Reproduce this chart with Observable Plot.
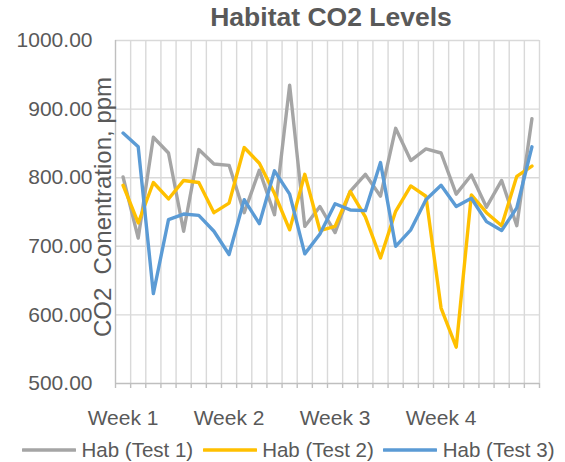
<!DOCTYPE html>
<html>
<head>
<meta charset="utf-8">
<script src="https://cdn.jsdelivr.net/npm/d3@7"></script>
<script src="https://cdn.jsdelivr.net/npm/@observablehq/plot@0.6"></script>
<style>
  html, body { margin: 0; padding: 0; background: #fff; }
  #wrap { position: relative; width: 565px; height: 462px; font-family: "Liberation Sans", Arial, sans-serif; color: #595959; }
  #title { position: absolute; top: 0; left: 119px; width: 424px; height: 34px; line-height: 34px; text-align: center; font-size: 26.5px; font-weight: bold; color: #595959; white-space: nowrap; }
  #legend { position: absolute; top: 439px; left: 22px; height: 22px; line-height: 22px; display: flex; align-items: center; font-size: 20.5px; color: #595959; white-space: nowrap; }
  .item { display: flex; align-items: center; margin-right: 9.5px; line-height: 22px; }
  .item svg { margin-right: 5.5px; }
  #chart { position: absolute; top: 0; left: 0; }
</style>
</head>
<body>
<div id="wrap">
  <div id="chart"></div>
  <div id="title"></div>
  <div id="legend"></div>
</div>
<script>
// ---- data ----
const title = "Habitat CO2 Levels";
const yLabel = "CO2\u00a0 Conentration, ppm";
const weeks = ["Week 1", "Week 2", "Week 3", "Week 4"];
const daysPerWeek = 7;
const seriesNames = ["Hab (Test 1)", "Hab (Test 2)", "Hab (Test 3)"];
const seriesColors = ["#a5a5a5", "#ffc000", "#5b9bd5"];
const test1 = [801, 712, 859, 836, 722, 841, 820, 818, 749, 811, 746, 935, 729, 758, 720, 780, 805, 773, 872, 825, 842, 836, 776, 804, 757, 796, 730, 886];
const test2 = [789, 734, 793, 769, 796, 793, 749, 763, 844, 821, 777, 724, 805, 723, 729, 780, 743, 683, 751, 788, 773, 610, 553, 775, 749, 730, 802, 817];
const test3 = [865, 845, 631, 739, 747, 745, 722, 688, 768, 733, 810, 776, 689, 718, 762, 753, 752, 822, 700, 724, 768, 789, 758, 770, 736, 723, 756, 845];
const yTicks = [500, 600, 700, 800, 900, 1000];

// ---- build ----
const allSeries = [test1, test2, test3];
const n = test1.length;
const rows = [];
allSeries.forEach((arr, k) => arr.forEach((v, i) => rows.push({i, v, s: seriesNames[k]})));
const boundaries = d3.range(n + 1).map(i => i - 0.5);
const weekPos = weeks.map((w, k) => k * daysPerWeek);

const font = "Liberation Sans, Arial, sans-serif";
const chart = Plot.plot({
  width: 565,
  height: 462,
  marginLeft: 115,
  marginRight: 26,
  marginTop: 40,
  marginBottom: 79,
  style: {fontFamily: font, fontSize: "21px", color: "#595959", background: "transparent", overflow: "visible"},
  x: {type: "linear", domain: [-0.5, n - 0.5]},
  y: {domain: [500, 1000]},
  color: {domain: seriesNames, range: seriesColors},
  marks: [
    Plot.ruleY(yTicks.slice(1), {stroke: "#d9d9d9", strokeWidth: 1.4}),
    Plot.ruleX(boundaries.slice(1), {stroke: "#d9d9d9", strokeWidth: 1.4}),
    Plot.ruleX([-0.5], {stroke: "#bfbfbf", strokeWidth: 1.4}),
    Plot.ruleY([500], {stroke: "#bfbfbf", strokeWidth: 1.4}),
    Plot.axisX({ticks: boundaries, tickSize: 5, tickFormat: () => "", stroke: "#bfbfbf", strokeWidth: 1.4, label: null}),
    Plot.axisX({ticks: weekPos, tickSize: 0, tickPadding: 27, tickFormat: i => weeks[Math.round(i / daysPerWeek)], fill: "#595959", fontSize: 21, label: null}),
    Plot.axisY({ticks: yTicks, tickSize: 0, tickPadding: 23, tickFormat: d => d.toFixed(2), fill: "#595959", fontSize: 21, label: null}),
    Plot.text([yLabel], {frameAnchor: "left", text: d => d, rotate: -90, dx: -12.5, dy: -5, fontSize: 24, fill: "#595959", textAnchor: "middle", lineAnchor: "middle"}),
    Plot.line(rows, {x: "i", y: "v", z: "s", stroke: "s", strokeWidth: 3.4, strokeLinejoin: "round", strokeLinecap: "round"})
  ]
});
document.getElementById("chart").appendChild(chart);
document.getElementById("title").textContent = title;

const legend = document.getElementById("legend");
seriesNames.forEach((name, k) => {
  const item = document.createElement("div");
  item.className = "item";
  item.innerHTML = `<svg width="54" height="6"><line x1="1" y1="3" x2="53" y2="3" stroke="${seriesColors[k]}" stroke-width="3.5" stroke-linecap="round"/></svg><span>${name}</span>`;
  legend.appendChild(item);
});
</script>
</body>
</html>
